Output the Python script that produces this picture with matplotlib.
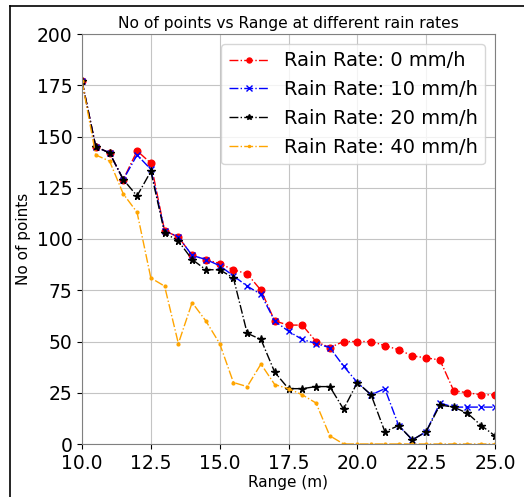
import matplotlib
matplotlib.use("Agg")
import matplotlib.pyplot as plt
from matplotlib.lines import Line2D
import numpy as np

ranges = [10.0, 10.5, 11.0, 11.5, 12.0, 12.5, 13.0, 13.5, 14.0, 14.5, 15.0,
          15.5, 16.0, 16.5, 17.0, 17.5, 18.0, 18.5, 19.0, 19.5, 20.0,
          20.5, 21.0, 21.5, 22.0, 22.5, 23.0, 23.5, 24.0, 24.5, 25.0]

rain_0 = [177, 145, 142, 129, 143, 137, 104, 101, 92, 90, 88,
          85, 83, 75, 60, 58, 58, 50, 47, 50, 50,
          50, 48, 46, 43, 42, 41, 26, 25, 24, 24]
rain_10 = [177, 145, 142, 129, 141, 134, 104, 101, 92, 90, 87,
           82, 77, 73, 60, 55, 51, 49, 47, 38, 30,
           24, 27, 9, 2, 6, 20, 18, 18, 18, 18]
rain_20 = [177, 145, 142, 129, 121, 133, 103, 99, 90, 85, 85,
           81, 54, 51, 35, 27, 27, 28, 28, 17, 30,
           24, 6, 9, 2, 6, 19, 18, 15, 9, 4]
rain_40 = [177, 141, 138, 122, 113, 81, 77, 49, 69, 60, 49,
           30, 28, 39, 29, 27, 24, 20, 4, 0, 0,
           0, 0, 0, 0, 0, 0, 0, 0, 0, 0]

labels = ["Rain Rate: 0 mm/h", "Rain Rate: 10 mm/h",
          "Rain Rate: 20 mm/h", "Rain Rate: 40 mm/h"]

fig = plt.figure(figsize=(5.24, 4.97), dpi=100)
ax = fig.add_axes([82/524, 1-444/497, (495-82)/524, (444-34)/497])

ax.plot(ranges, rain_0, linestyle='-.', color='red', marker='o', markersize=4.8, linewidth=1, label=labels[0])
ax.plot(ranges, rain_10, linestyle='-.', color='blue', marker='x', markersize=5, linewidth=1, label=labels[1])
ax.plot(ranges, rain_20, linestyle='-.', color='black', marker='*', markersize=5.5, linewidth=1, label=labels[2])
ax.plot(ranges, rain_40, linestyle='-.', color='orange', marker='.', markersize=4, linewidth=1, label=labels[3])

ax.set_xlim(10, 25)
ax.set_ylim(0, 200)
ax.set_xticks([10.0, 12.5, 15.0, 17.5, 20.0, 22.5, 25.0])
ax.set_yticks([0, 25, 50, 75, 100, 125, 150, 175, 200])
ax.tick_params(labelsize=13.5)
ax.grid(True, color='#c4c4c4', linewidth=0.8)
ax.set_axisbelow(True)
for s in ax.spines.values():
    s.set_color('#808080')
ax.set_title("No of points vs Range at different rain rates", fontsize=11.2, pad=4)
ax.set_xlabel("Range (m)", fontsize=11, labelpad=2)
ax.set_ylabel("No of points", fontsize=11)
ax.legend(loc='upper right', fontsize=14, markerscale=0.75, handlelength=2.0,
          borderaxespad=0.5, labelspacing=0.5)

fig.add_artist(Line2D([10/524, 1], [1-6/497, 1-6/497], color='black', linewidth=1.2, transform=fig.transFigure))
fig.add_artist(Line2D([10/524, 10/524], [0, 1-6/497], color='black', linewidth=1.2, transform=fig.transFigure))

fig.savefig("out.png", dpi=100)
